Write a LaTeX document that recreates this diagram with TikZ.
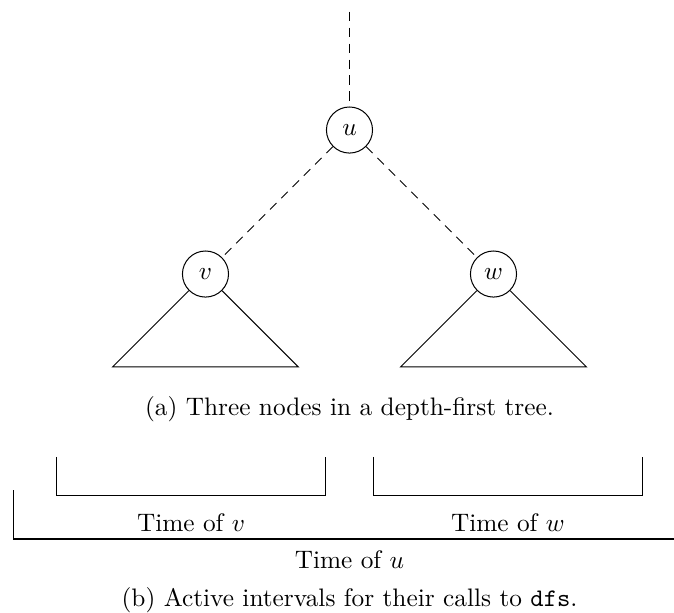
\documentclass[tikz,border=0pt]{standalone}
\usepackage{amsmath}
\usepackage{tikz}
\usetikzlibrary{positioning}

\begin{document}
\begin{tikzpicture}[node distance=2cm]
	\tikzstyle{vertex} = [circle, minimum size=0.64cm, inner sep=0pt, 
	draw=black]
	\tikzstyle{treeEdge} = [dash pattern=on 3.6pt off 2.7pt]
	\useasboundingbox (-4.854,-6.695) rectangle (4.507,1.806);
	\node (u) [vertex] {$u$};
	\node (v) [vertex, below of=u, xshift=-2cm] {$v$};
	\node (w) [vertex, below of=u, xshift=2cm] {$w$};
	\coordinate [node distance=1.643cm, above of=u] (parent);
	\coordinate [below left=1.29cm and 1.29cm of v.center] (vLeft);
	\coordinate [below right=1.29cm and 1.29cm of v.center] (vRight);
	\coordinate [below left=1.29cm and 1.29cm of w.center] (wLeft);
	\coordinate [below right=1.29cm and 1.29cm of w.center] (wRight);
	\node (captionA) at (0,-3.87) {(a) Three nodes in a depth-first tree.};
	\coordinate (vStart) at (-4.07,-4.54);
	\coordinate (vEnd) at (-0.34,-4.54);
	\coordinate (wStart) at (0.34,-4.54);
	\coordinate (wEnd) at (4.07,-4.54);
	\coordinate (uStart) at (-4.67,-5.0);
	\coordinate (uEnd) at (4.507,-5.68);
	\node (timeV) at (-2.2,-5.46) {Time of $v$};
	\node (timeW) at (2.2,-5.46) {Time of $w$};
	\node (timeU) at (0,-5.97) {Time of $u$};
	\node (captionB) at (0,-6.53) {(b) Active intervals for their calls to \texttt{dfs}.};
	\draw [treeEdge] (parent) -- (u);
	\draw [treeEdge] (u) -- (v);
	\draw [treeEdge] (u) -- (w);
	\draw (v.south west) -- (vLeft) -- (vRight) -- (v.south east);
	\draw (w.south west) -- (wLeft) -- (wRight) -- (w.south east);
	\draw (vStart) -- ++(0,-0.53) -| (vEnd);
	\draw (wStart) -- ++(0,-0.53) -| (wEnd);
	\draw (uStart) |- (uEnd);
\end{tikzpicture}
\end{document}
